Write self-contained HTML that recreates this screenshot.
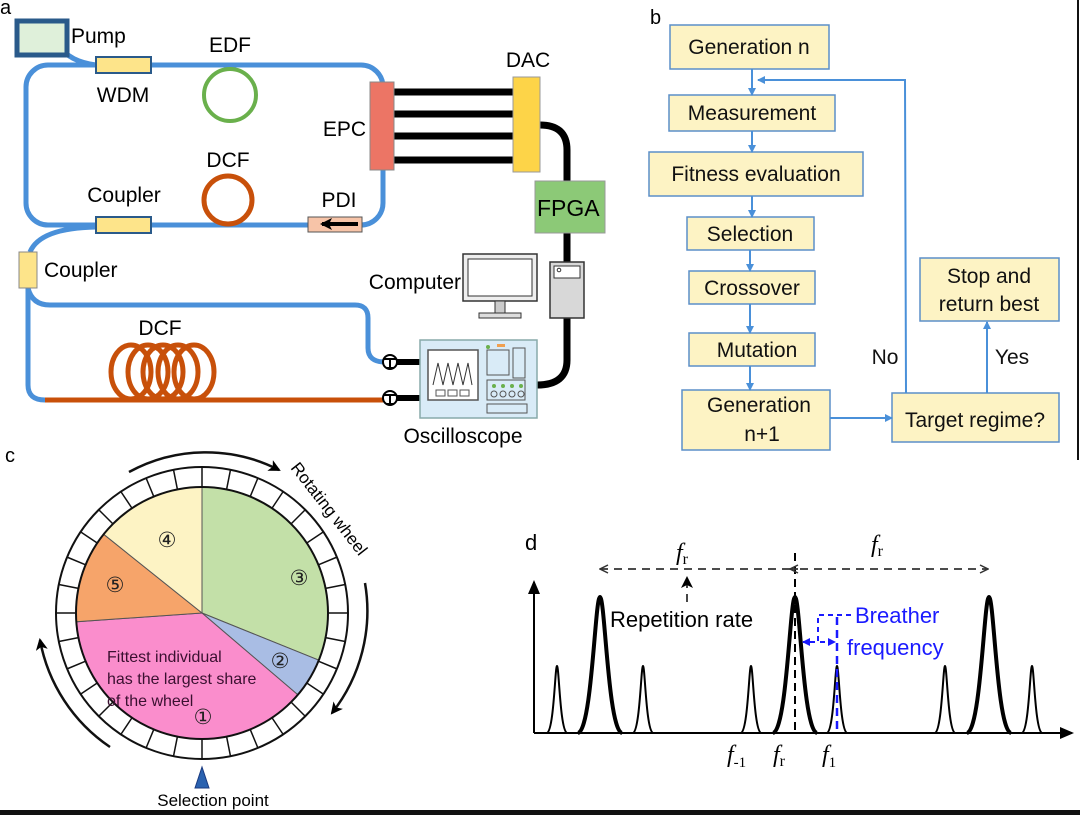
<!DOCTYPE html>
<html><head><meta charset="utf-8"><style>
html,body{margin:0;padding:0;background:#fff;}
svg{display:block;font-family:"Liberation Sans",Arial,sans-serif;}
</style></head><body>
<svg width="1080" height="815" viewBox="0 0 1080 815" xmlns="http://www.w3.org/2000/svg">
<defs>
<marker id="ab" markerWidth="8" markerHeight="8" refX="7" refY="4" orient="auto" markerUnits="userSpaceOnUse"><path d="M0,0 L8,4 L0,8 z" fill="#4a90d9"/></marker>
<marker id="ak" markerWidth="12" markerHeight="12" refX="10" refY="6" orient="auto" markerUnits="userSpaceOnUse"><path d="M0,0 L12,6 L0,12 L3,6 z" fill="#000"/></marker>
<marker id="ao" markerWidth="10" markerHeight="10" refX="9" refY="5" orient="auto" markerUnits="userSpaceOnUse"><path d="M1,1 L9,5 L1,9" fill="none" stroke="#333" stroke-width="1.5"/></marker>
<marker id="ablue" markerWidth="8" markerHeight="8" refX="7" refY="4" orient="auto" markerUnits="userSpaceOnUse"><path d="M0,0 L8,4 L0,8 z" fill="#1a1aff"/></marker>
<marker id="ax" markerWidth="14" markerHeight="14" refX="12" refY="7" orient="auto" markerUnits="userSpaceOnUse"><path d="M0,1 L14,7 L0,13 z" fill="#000"/></marker>
</defs>
<rect width="1080" height="815" fill="#fff"/>
<rect x="0" y="810" width="1080" height="5" fill="#111"/>
<line x1="1078" y1="0" x2="1078" y2="460" stroke="#111" stroke-width="2"/>

<!-- Panel a -->
<text x="0" y="14" font-size="20">a</text>
<g fill="none" stroke="#4a90d9" stroke-width="5">
<path d="M58,45 Q70,62 96,65"/>
<rect x="26" y="65" width="357" height="160" rx="22"/>
<path d="M96,227 Q40,228 30,252"/>
<path d="M28,288 L28,385 Q28,400 45,400"/>
<path d="M28,288 Q32,305 50,305 L355,305 Q368,305 368,318 L368,348 Q368,362 385,362"/>
</g>
<line x1="45" y1="400" x2="383" y2="400" stroke="#c8500a" stroke-width="5"/>
<rect x="17" y="21" width="50" height="34" fill="#dff0da" stroke="#2a5a8a" stroke-width="5"/>
<text x="71" y="43" font-size="21">Pump</text>
<rect x="96" y="57" width="55" height="16" fill="#fde48a" stroke="#2a5a8a" stroke-width="2"/>
<text x="123" y="102" font-size="21" text-anchor="middle">WDM</text>
<circle cx="230" cy="95" r="26" fill="none" stroke="#6ab04c" stroke-width="4"/>
<text x="230" y="52" font-size="21" text-anchor="middle">EDF</text>
<circle cx="228" cy="200" r="24" fill="none" stroke="#c8500a" stroke-width="5"/>
<text x="228" y="167" font-size="21" text-anchor="middle">DCF</text>
<rect x="96" y="217" width="55" height="16" fill="#fde48a" stroke="#2a5a8a" stroke-width="2"/>
<text x="124" y="202" font-size="21" text-anchor="middle">Coupler</text>
<rect x="308" y="217" width="54" height="15" fill="#f7c4a8" stroke="#555" stroke-width="1"/>
<path d="M358,224 L322,224" stroke="#000" stroke-width="4" marker-end="url(#ak)"/>
<text x="339" y="207" font-size="21" text-anchor="middle">PDI</text>
<rect x="19" y="252" width="18" height="36" fill="#fde48a" stroke="#888" stroke-width="1"/>
<text x="44" y="277" font-size="21">Coupler</text>
<g stroke="#000" stroke-width="7">
<line x1="394" y1="92" x2="515" y2="92"/><line x1="394" y1="114" x2="515" y2="114"/>
<line x1="394" y1="136" x2="515" y2="136"/><line x1="394" y1="160" x2="515" y2="160"/>
</g>
<rect x="370" y="82" width="24" height="88" fill="#ec7565" stroke="#888" stroke-width="1"/>
<text x="366" y="136" font-size="21" text-anchor="end">EPC</text>
<path d="M540,125 Q567,125 567,150 L567,181 M567,233 L567,262 M567,318 L567,360 Q567,385 537,385" fill="none" stroke="#000" stroke-width="7"/>
<rect x="513" y="77" width="27" height="95" fill="#fdd448" stroke="#999" stroke-width="1"/>
<text x="528" y="67" font-size="21" text-anchor="middle">DAC</text>
<rect x="535" y="181" width="70" height="52" fill="#8cc977" stroke="#999" stroke-width="1"/>
<text x="537" y="216" font-size="23">FPGA</text>
<rect x="550" y="262" width="34" height="56" fill="#d8d8d8" stroke="#333" stroke-width="1.5"/>
<rect x="554" y="266" width="26" height="12" fill="#fff" stroke="#333" stroke-width="1"/>
<circle cx="559" cy="270" r="1.8" fill="none" stroke="#333"/>
<rect x="463" y="254" width="74" height="47" fill="#eee" stroke="#333" stroke-width="1.5"/>
<rect x="468" y="259" width="64" height="37" fill="#fff" stroke="#333" stroke-width="1"/>
<rect x="495" y="301" width="10" height="13" fill="#ccc" stroke="#333"/>
<rect x="479" y="313" width="42" height="5" fill="#ddd" stroke="#333"/>
<text x="461" y="289" font-size="21" text-anchor="end">Computer</text>
<g fill="none" stroke="#c8500a" stroke-width="5">
<ellipse cx="131" cy="372" rx="20" ry="27"/><ellipse cx="148" cy="372" rx="20" ry="27"/>
<ellipse cx="163" cy="372" rx="20" ry="27"/><ellipse cx="178" cy="372" rx="20" ry="27"/>
<ellipse cx="194" cy="372" rx="20" ry="27"/>
</g>
<text x="160" y="335" font-size="21" text-anchor="middle">DCF</text>
<g stroke="#000" stroke-width="6"><line x1="395" y1="362" x2="420" y2="362"/><line x1="395" y1="398" x2="420" y2="398"/></g>
<g><circle cx="390" cy="362" r="7" fill="#fff" stroke="#000" stroke-width="2"/><path d="M384,359 L396,359 M390,359 L390,368 M386,368 L394,368" stroke="#000" stroke-width="2"/>
<circle cx="390" cy="398" r="7" fill="#fff" stroke="#000" stroke-width="2"/><path d="M384,395 L396,395 M390,395 L390,404 M386,404 L394,404" stroke="#000" stroke-width="2"/></g>
<rect x="420" y="340" width="117" height="78" fill="#d9ebf7" stroke="#8aa" stroke-width="1.5"/>
<rect x="428" y="350" width="50" height="50" fill="#fff" stroke="#555" stroke-width="1.5"/>
<path d="M433,385 L438,363 L443,385 L448,363 L453,385 L458,363 L463,385 L468,363 L472,385" fill="none" stroke="#333" stroke-width="1"/>
<g fill="none" stroke="#555" stroke-width="1"><rect x="436" y="390" width="9" height="6"/><rect x="448" y="390" width="9" height="6"/><rect x="460" y="390" width="9" height="6"/>
<rect x="487" y="350" width="22" height="25"/><rect x="513" y="348" width="12" height="30"/><rect x="487" y="380" width="38" height="20"/><rect x="487" y="404" width="40" height="9"/>
<circle cx="494" cy="394" r="3"/><circle cx="503" cy="394" r="3"/><circle cx="512" cy="394" r="3"/><circle cx="521" cy="394" r="3"/></g>
<g fill="#6ab04c"><circle cx="494" cy="386" r="2"/><circle cx="503" cy="386" r="2"/><circle cx="512" cy="386" r="2"/><circle cx="521" cy="386" r="2"/><circle cx="488" cy="347" r="2"/></g>
<rect x="497" y="344" width="8" height="3" fill="#f0a050"/>
<text x="463" y="443" font-size="21" text-anchor="middle">Oscilloscope</text>

<!-- Panel b -->
<text x="650" y="24" font-size="20">b</text>
<g fill="#fdf3c4" stroke="#5b8fc9" stroke-width="1.5">
<rect x="670" y="25" width="159" height="44"/>
<rect x="669" y="95" width="166" height="36"/>
<rect x="649" y="152" width="214" height="44"/>
<rect x="687" y="217" width="127" height="33"/>
<rect x="689" y="271" width="126" height="33"/>
<rect x="689" y="333" width="126" height="33"/>
<rect x="682" y="390" width="148" height="60"/>
<rect x="892" y="393" width="167" height="49"/>
<rect x="920" y="258" width="139" height="63"/>
</g>
<g font-size="21" text-anchor="middle" fill="#111">
<text x="749" y="54">Generation n</text>
<text x="752" y="120">Measurement</text>
<text x="756" y="181">Fitness evaluation</text>
<text x="750" y="241">Selection</text>
<text x="752" y="295">Crossover</text>
<text x="757" y="357">Mutation</text>
<text x="759" y="412">Generation</text>
<text x="762" y="441">n+1</text>
<text x="975" y="427">Target regime?</text>
<text x="989" y="283">Stop and</text>
<text x="989" y="311">return best</text>
<text x="885" y="364">No</text>
<text x="1012" y="364">Yes</text>
</g>
<g fill="none" stroke="#4a90d9" stroke-width="2">
<line x1="752" y1="69" x2="752" y2="95" marker-end="url(#ab)"/>
<line x1="752" y1="131" x2="752" y2="152" marker-end="url(#ab)"/>
<line x1="752" y1="196" x2="752" y2="217" marker-end="url(#ab)"/>
<line x1="750" y1="250" x2="750" y2="271" marker-end="url(#ab)"/>
<line x1="750" y1="304" x2="750" y2="333" marker-end="url(#ab)"/>
<line x1="750" y1="366" x2="750" y2="390" marker-end="url(#ab)"/>
<line x1="830" y1="418" x2="892" y2="418" marker-end="url(#ab)"/>
<path d="M906,393 L905,80 L758,80" marker-end="url(#ab)"/>
<line x1="987" y1="393" x2="987" y2="322" marker-end="url(#ab)"/>
</g>

<!-- Panel c -->
<text x="5" y="462" font-size="20">c</text>
<circle cx="202" cy="613" r="146" fill="#fff" stroke="#111" stroke-width="2"/>
<g id="ticks" stroke="#111" stroke-width="1.5"></g>
<g stroke="#555" stroke-width="1">
<path d="M202,613 L202,487 A126,126 0 0 1 318.8,660.2 Z" fill="#c3e0a8"/>
<path d="M202,613 L318.8,660.2 A126,126 0 0 1 297.8,694.8 Z" fill="#a9bde4"/>
<path d="M202,613 L297.8,694.8 A126,126 0 0 1 76.3,621.8 Z" fill="#fa8dcc"/>
<path d="M202,613 L76.3,621.8 A126,126 0 0 1 103.7,534.3 Z" fill="#f6a46a"/>
<path d="M202,613 L103.7,534.3 A126,126 0 0 1 202,487 Z" fill="#fdf3c4"/>
</g>
<circle cx="202" cy="613" r="126" fill="none" stroke="#111" stroke-width="2"/>
<g font-family="Liberation Serif,serif" font-size="21" text-anchor="middle" fill="#222">
<text x="299" y="585">③</text><text x="280" y="668">②</text><text x="203" y="724">①</text><text x="167" y="547">④</text><text x="115" y="592">⑤</text>
</g>
<g font-size="16" fill="#3a1030"><text x="107" y="662">Fittest individual</text><text x="107" y="684">has the largest share</text><text x="107" y="706">of the wheel</text></g>
<path d="M195,788 L202,767 L209,788 Z" fill="#2a62b0" stroke="#1a3a80"/>
<text x="213" y="806" font-size="17" text-anchor="middle">Selection point</text>
<g fill="none" stroke="#111" stroke-width="2.5">
<path d="M129,472 A160,160 0 0 1 279,470" marker-end="url(#ak)"/>
<path d="M365,583 A165,165 0 0 1 332,713" marker-end="url(#ak)"/>
<path d="M110,747 A165,165 0 0 1 40,640" marker-end="url(#ak)"/>
</g>
<text x="0" y="0" font-size="17" transform="translate(290,468) rotate(52)">Rotating wheel</text>

<!-- Panel d -->
<text x="525" y="550" font-size="22">d</text>
<g stroke="#000" stroke-width="2" fill="none">
<line x1="534" y1="733" x2="534" y2="582" marker-end="url(#ax)"/>
<line x1="534" y1="733" x2="1072" y2="733" marker-end="url(#ax)"/>
</g>
<g fill="none" stroke="#000">
<g stroke-width="4">
<path d="M578,733 C592,730 595,597 600,597 C605,597 608,730 622,733"/>
<path d="M773,733 C787,730 790,597 795,597 C800,597 803,730 817,733"/>
<path d="M967,733 C981,730 984,597 989,597 C994,597 997,730 1011,733"/>
</g>
<g stroke-width="2">
<path d="M547,733 C554,730 555,666 557,666 C559,666 560,730 567,733"/>
<path d="M633,733 C640,730 641,666 643,666 C645,666 646,730 653,733"/>
<path d="M741,733 C748,730 749,666 751,666 C753,666 754,730 761,733"/>
<path d="M827,733 C834,730 835,666 837,666 C839,666 840,730 847,733"/>
<path d="M935,733 C942,730 943,666 945,666 C947,666 948,730 955,733"/>
<path d="M1022,733 C1029,730 1030,666 1032,666 C1034,666 1035,730 1042,733"/>
</g>
</g>
<line x1="795" y1="553" x2="795" y2="733" stroke="#000" stroke-width="2" stroke-dasharray="8,5"/>
<line x1="837" y1="617" x2="837" y2="733" stroke="#1a1aff" stroke-width="2.5" stroke-dasharray="8,5"/>
<g stroke="#333" stroke-width="1.8" fill="none" stroke-dasharray="8,6">
<line x1="790" y1="569" x2="600" y2="569" marker-end="url(#ao)"/>
<line x1="800" y1="569" x2="988" y2="569" marker-end="url(#ao)"/>
<line x1="798" y1="569" x2="790" y2="569" stroke-dasharray="none" marker-end="url(#ao)"/>
<line x1="687" y1="602" x2="687" y2="578" marker-end="url(#ak)"/>
</g>
<g font-family="Liberation Serif,serif" font-style="italic" font-size="24">
<text x="676" y="560">f<tspan font-style="normal" font-size="16" dy="4">r</tspan></text>
<text x="871" y="552">f<tspan font-style="normal" font-size="16" dy="4">r</tspan></text>
<text x="727" y="762">f<tspan font-style="normal" font-size="15" dy="5">-1</tspan></text>
<text x="773" y="762">f<tspan font-style="normal" font-size="16" dy="4">r</tspan></text>
<text x="822" y="762">f<tspan font-style="normal" font-size="15" dy="5">1</tspan></text>
</g>
<text x="610" y="627" font-size="22">Repetition rate</text>
<g fill="none" stroke="#1a1aff" stroke-width="2" stroke-dasharray="5,4">
<path d="M818,641 L818,615 L855,615"/>
<line x1="815" y1="642" x2="803" y2="642" marker-end="url(#ablue)"/>
<line x1="820" y1="642" x2="835" y2="642" marker-end="url(#ablue)"/>
</g>
<g font-size="22" fill="#1a1aff"><text x="855" y="623">Breather</text><text x="847" y="655">frequency</text></g>
</svg>
<script>
(function(){var g=document.getElementById('ticks');var s='';for(var i=0;i<32;i++){var a=(i/32)*2*Math.PI;var c=Math.cos(a),sn=Math.sin(a);s+='<line x1="'+(202+126*sn)+'" y1="'+(613+126*c)+'" x2="'+(202+146*sn)+'" y2="'+(613+146*c)+'"/>';}g.innerHTML=s;})();
</script>
</body></html>
